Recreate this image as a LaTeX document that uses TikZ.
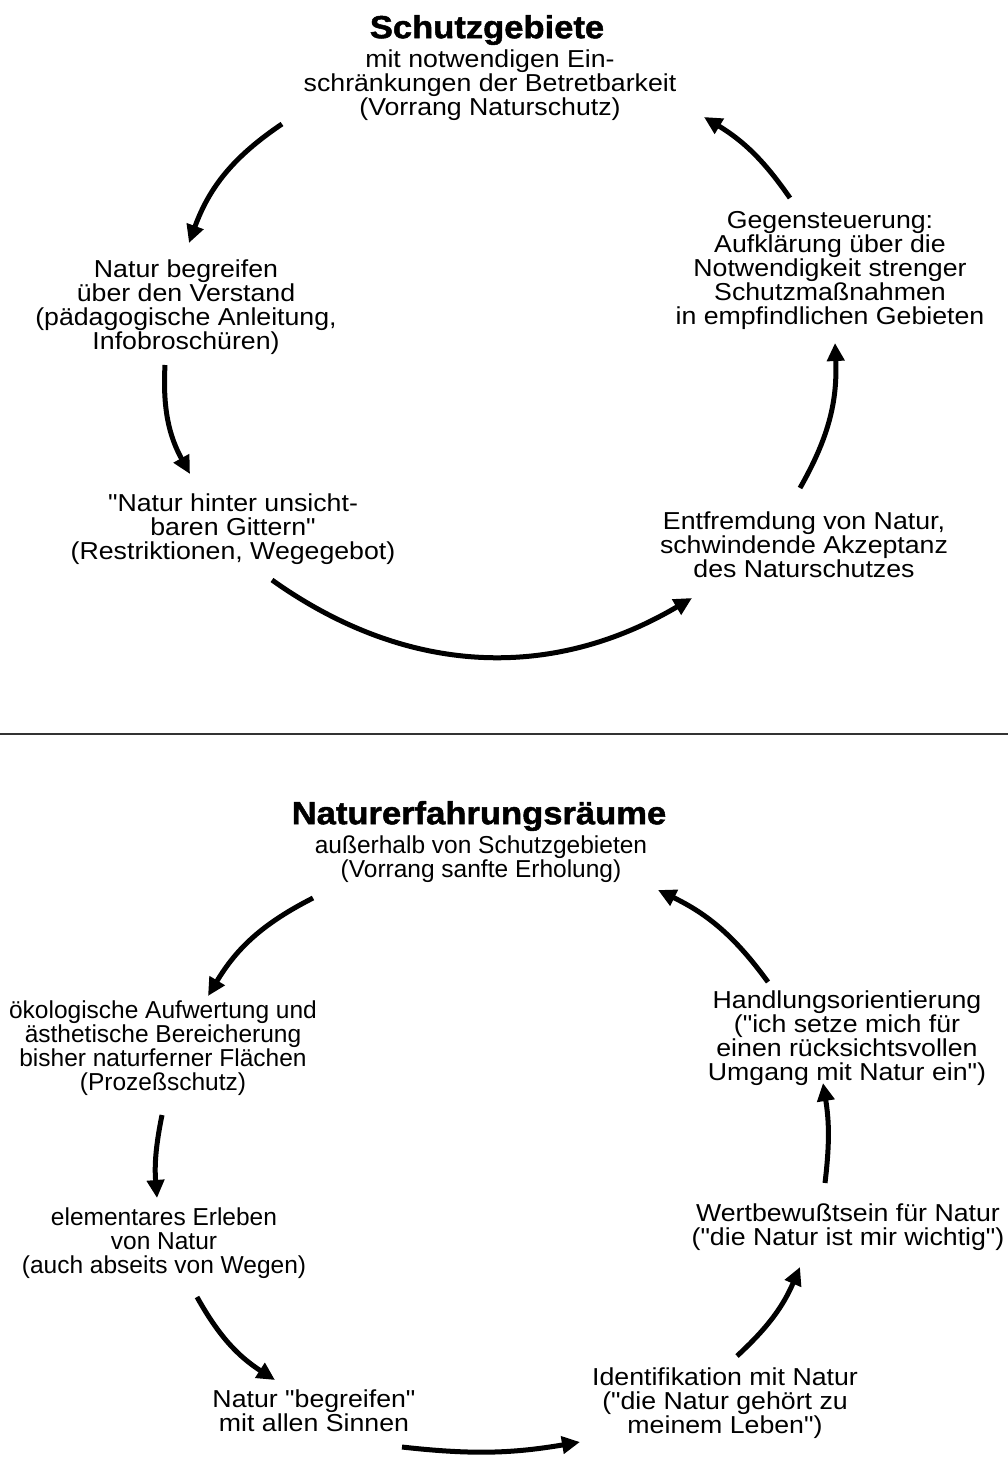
\documentclass[tikz,border=0pt]{standalone}
\usepackage{fontspec}
\setmainfont{Liberation Sans}[FakeStretch=1.09, Ligatures=TeXOff]
\newfontfamily\narrowfont{Liberation Sans}[Ligatures=TeXOff]
\newfontfamily\titlefont{Liberation Sans}[FakeStretch=1.08, FakeBold=1.5]
\usetikzlibrary{arrows.meta}
\tikzset{
  txt/.style={align=center, inner sep=0pt, font=\fontsize{24.5}{24}\selectfont},
  ntxt/.style={align=center, inner sep=0pt, font=\narrowfont\fontsize{24.5}{24}\selectfont},
  ttl/.style={align=center, inner sep=0pt, font=\titlefont\bfseries\fontsize{32}{32}\selectfont},
  cyc/.style={line width=5pt, -{Triangle[length=18pt,width=17pt]}},
}
\begin{document}
\begin{tikzpicture}[x=1pt,y=-1pt]
\useasboundingbox (0,0) rectangle (1008,1457);
% ---------- top cycle ----------
\node[ttl] (t1) at (487,30) {Schutzgebiete};
\node[txt] (s1) at (490,85.5) {mit notwendigen Ein-\\schränkungen der Betretbarkeit\\(Vorrang Naturschutz)};
\node[txt] (a1) at (186,307) {Natur begreifen\\über den Verstand\\(pädagogische Anleitung,\\Infobroschüren)};
\node[txt] (b1) at (233,529) {"Natur hinter unsicht-\\baren Gittern"\\(Restriktionen, Wegegebot)};
\node[txt] (c1) at (804,544.5) {Entfremdung von Natur,\\schwindende Akzeptanz\\des Naturschutzes};
\node[txt] (d1) at (830,270.5) {Gegensteuerung:\\Aufklärung über die\\Notwendigkeit strenger\\Schutzmaßnahmen\\in empfindlichen Gebieten};

\coordinate (p1) at (282,124); \coordinate (q1) at (189,243);
\coordinate (p2) at (165,365); \coordinate (q2) at (190,474);
\coordinate (p3) at (272,580); \coordinate (q3) at (692,598);
\coordinate (p4) at (800,488); \coordinate (q4) at (835,343);
\coordinate (p5) at (790,198); \coordinate (q5) at (704,117);
\draw[cyc] (p1) to[bend right=18] (q1);
\draw[cyc] (p2) to[bend right=16] (q2);
\draw[cyc] (p3) to[bend right=33] (q3);
\draw[cyc] (p4) to[bend right=16] (q4);
\draw[cyc] (p5) to[bend right=12] (q5);

% separator
\coordinate (sepL) at (0,734); \coordinate (sepR) at (1008,734);
\draw[line width=1.2pt, black!80] (sepL) -- (sepR);

% ---------- bottom cycle ----------
\node[ttl] (t2) at (479,816) {Naturerfahrungsräume};
\node[ntxt] (s2) at (481,859) {außerhalb von Schutzgebieten\\(Vorrang sanfte Erholung)};
\node[ntxt] (a2) at (163,1048) {ökologische Aufwertung und\\ästhetische Bereicherung\\bisher naturferner Flächen\\(Prozeßschutz)};
\node[ntxt] (b2) at (164,1243.5) {elementares Erleben\\von Natur\\(auch abseits von Wegen)};
\node[txt] (c2) at (314,1410.5) {Natur "begreifen"\\mit allen Sinnen};
\node[txt] (d2) at (725,1403) {Identifikation mit Natur\\("die Natur gehört zu\\meinem Leben")};
\node[txt] (e2) at (848,1227.5) {Wertbewußtsein für Natur\\("die Natur ist mir wichtig")};
\node[txt] (f2) at (847,1038) {Handlungsorientierung\\("ich setze mich für\\einen rücksichtsvollen\\Umgang mit Natur ein")};

\coordinate (u1) at (313,898);  \coordinate (v1) at (208,996);
\coordinate (u2) at (162,1115); \coordinate (v2) at (157,1198);
\coordinate (u3) at (197,1297); \coordinate (v3) at (275,1380);
\coordinate (u4) at (402,1447); \coordinate (v4) at (580,1442);
\coordinate (u5) at (737,1356); \coordinate (v5) at (800,1267);
\coordinate (u6) at (825,1183); \coordinate (v6) at (823,1083);
\coordinate (u7) at (768,982);  \coordinate (v7) at (658,890);
\draw[cyc] (u1) to[bend right=16] (v1);
\draw[cyc] (u2) to[bend right=8] (v2);
\draw[cyc] (u3) to[bend right=14] (v3);
\draw[cyc] (u4) to[bend right=8] (v4);
\draw[cyc] (u5) to[bend right=12] (v5);
\draw[cyc] (u6) to[bend right=8] (v6);
\draw[cyc] (u7) to[bend right=14] (v7);
\end{tikzpicture}
\end{document}
